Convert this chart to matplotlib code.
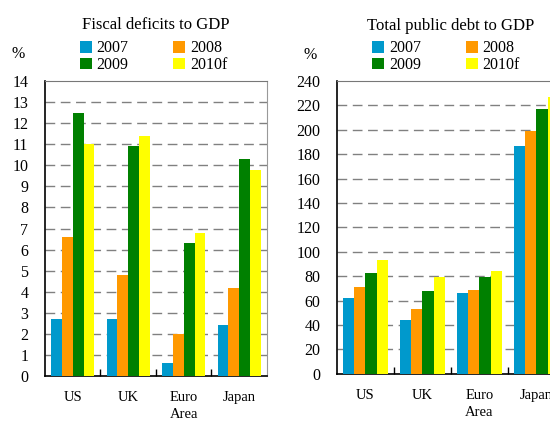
import matplotlib
matplotlib.use("Agg")
import matplotlib.pyplot as plt
import numpy as np

# data
regions = ["US", "UK", "Euro\nArea", "Japan"]
years = ["2007", "2008", "2009", "2010f"]
colors = ["#0099CC", "#FF9900", "#008000", "#FFFF00"]

deficit_2007 = [2.7, 2.7, 0.6, 2.4]
deficit_2008 = [6.6, 4.8, 2.0, 4.2]
deficit_2009 = [12.5, 10.9, 6.3, 10.3]
deficit_2010 = [11.0, 11.4, 6.8, 9.8]

debt_2007 = [62, 44, 66, 187]
debt_2008 = [71, 53, 69, 199]
debt_2009 = [83, 68, 79, 217]
debt_2010 = [93, 79, 84, 227]

deficits = [deficit_2007, deficit_2008, deficit_2009, deficit_2010]
debts = [debt_2007, debt_2008, debt_2009, debt_2010]

plt.rcParams["font.family"] = ["Liberation Serif", "DejaVu Serif"]

fig = plt.figure(figsize=(5.5, 4.22), dpi=100)
ax1 = fig.add_axes([0.0818, 0.109, 0.4036, 0.699])
ax2 = fig.add_axes([0.6127, 0.114, 0.4145, 0.694])


def draw_panel(ax, series, ymax, ystep, title):
    x = np.arange(len(regions))
    w = 0.195
    bars = []
    for i, vals in enumerate(series):
        b = ax.bar(x + (i - 1.5) * w, vals, w, color=colors[i], zorder=3)
        bars.append(b)
    ax.set_xlim(-0.5, len(regions) - 0.5)
    ax.set_ylim(0, ymax)
    ax.set_yticks(np.arange(0, ymax + ystep / 2, ystep))
    ax.set_xticks(x)
    ax.set_xticklabels(regions, fontsize=10.5, linespacing=1.35)
    ax.set_xticks(np.arange(0.5, len(regions) - 0.5, 1), minor=True)
    ax.tick_params(axis="x", which="major", length=0, pad=11)
    ax.tick_params(axis="x", which="minor", direction="in", length=5, width=1)
    ax.tick_params(axis="y", length=0, labelsize=11.5, pad=12)
    for t in ax.get_yticks()[1:-1]:
        ax.axhline(t, color="#808080", lw=1, ls=(0, (7, 4)), zorder=1)
    ax.spines["left"].set_linewidth(1.2)
    ax.spines["bottom"].set_linewidth(1.2)
    ax.spines["top"].set_color("#777777")
    ax.spines["right"].set_color("#999999")
    ax.text(0.5, 1.175, title, transform=ax.transAxes, ha="center",
            fontsize=12)
    ax.text(-0.12, 1.09, "%", transform=ax.transAxes, ha="center",
            va="center", fontsize=11.5)
    order = [0, 2, 1, 3]
    ax.legend([bars[i] for i in order], [years[i] for i in order], ncol=2,
              loc="lower left", bbox_to_anchor=(0.12, 1.0), frameon=False,
              fontsize=11.5, handlelength=0.75, handleheight=0.75,
              handletextpad=0.3, columnspacing=2.8, labelspacing=0.05,
              borderaxespad=0.1)


draw_panel(ax1, deficits, 14, 1, "Fiscal deficits to GDP")
draw_panel(ax2, debts, 240, 20, "Total public debt to GDP")

fig.savefig("out.png", dpi=100)
